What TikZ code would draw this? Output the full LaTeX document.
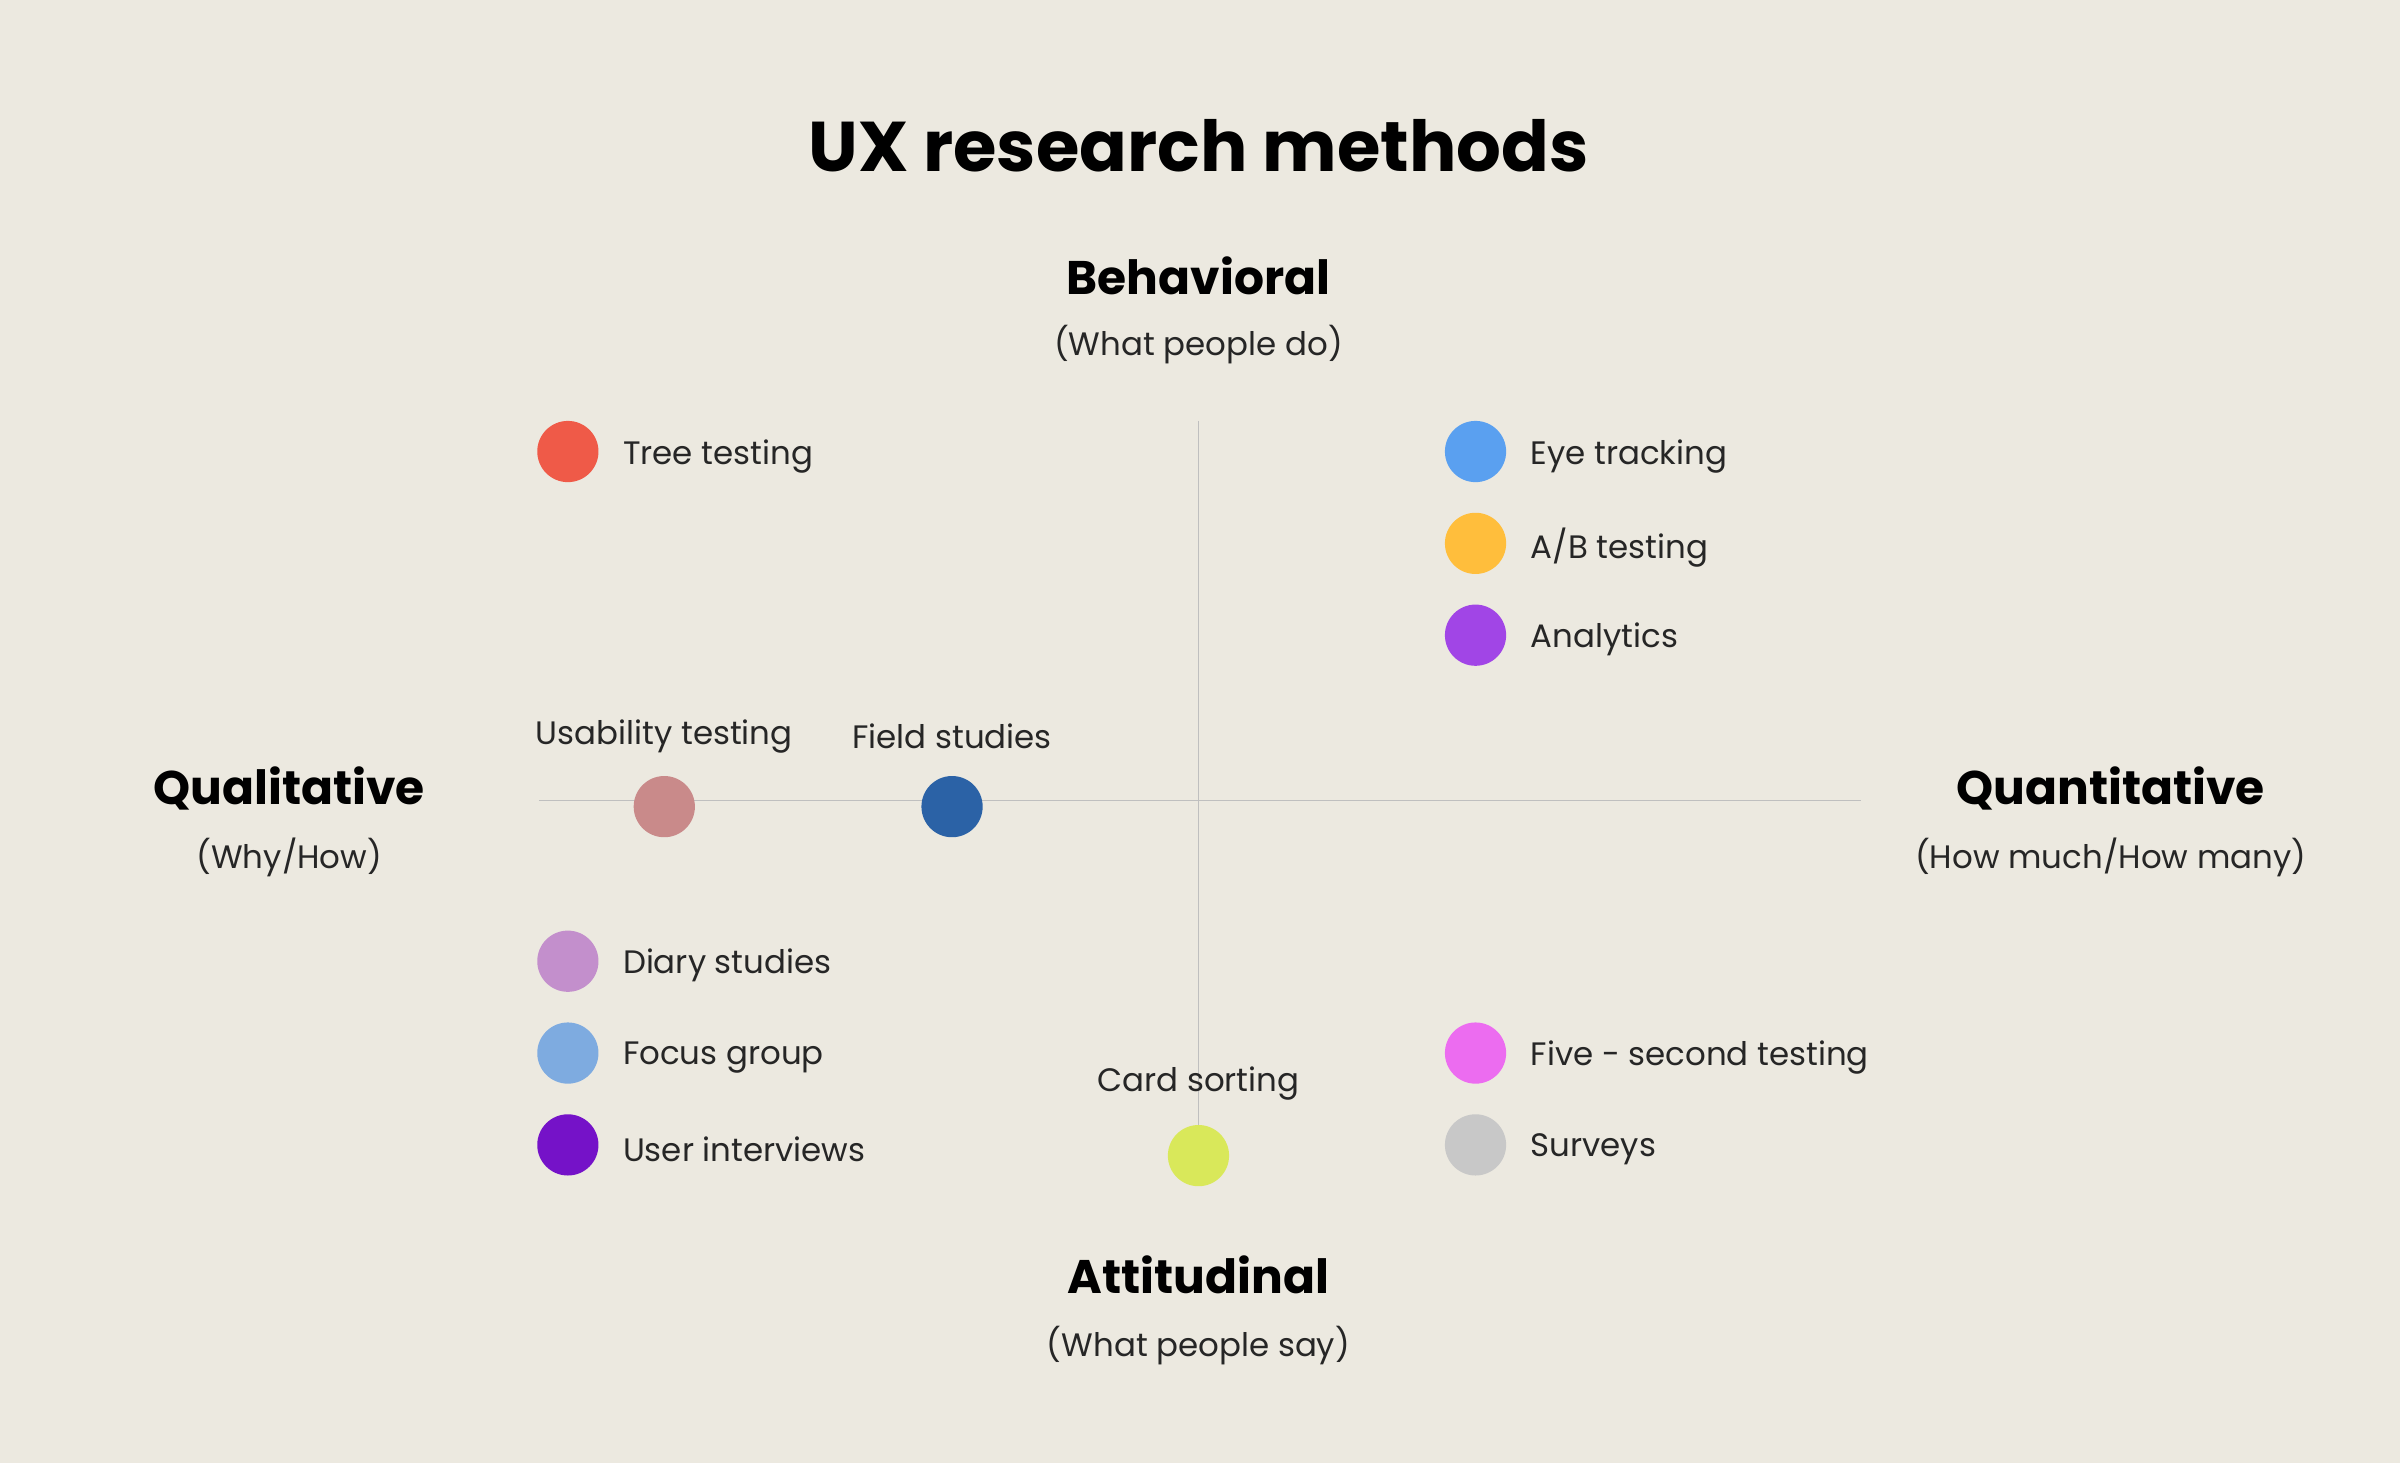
\documentclass[tikz,border=0pt]{standalone}
\usepackage{fontspec}
\setmainfont{Poppins}
\begin{document}
\begin{tikzpicture}[x=0.5pt,y=-0.5pt,
  dot/.style={circle,minimum size=20pt,inner sep=0pt},
  lab/.style={anchor=west,yshift=-1.5pt,font=\fontsize{10.6}{13}\selectfont,text=black!85},
  clab/.style={font=\fontsize{10.6}{13}\selectfont,text=black!85},
  head/.style={font=\fontsize{15.4}{18}\selectfont\bfseries},
  sub/.style={font=\fontsize{10.6}{13}\selectfont,text=black!85},
  axis/.style={draw=black!25,line width=0.6pt}]
\fill[fill={rgb,255:red,236;green,233;blue,224}] (0,0) rectangle (1568,956);
\useasboundingbox (0,0) rectangle (1568,956);
\node[font=\fontsize{23}{28}\selectfont\bfseries] (title) at (783,95) {UX research methods};
\node[head] (beh) at (783,180) {Behavioral};
\node[sub] (behs) at (783,225) {(What people do)};
\node[head] (att) at (783,833) {Attitudinal};
\node[sub] (atts) at (783,879) {(What people say)};
\node[head] (qual) at (189,515) {Qualitative};
\node[sub] (quals) at (189,560) {(Why/How)};
\node[head] (quan) at (1379,515) {Quantitative};
\node[sub] (quans) at (1379,560) {(How much/How many)};
\coordinate (vt) at (783,275); \coordinate (vb) at (783,755);
\coordinate (hl) at (352,523); \coordinate (hr) at (1216,523);
\draw[axis] (vt) -- (vb);
\draw[axis] (hl) -- (hr);
\node[dot,fill={rgb,255:red,239;green,90;blue,72}] (d1) at (371,295) {};
\node[lab] at (400,295) {Tree testing};
\node[dot,fill={rgb,255:red,90;green,160;blue,240}] (d2) at (964,295) {};
\node[lab] at (993,295) {Eye tracking};
\node[dot,fill={rgb,255:red,255;green,190;blue,60}] (d3) at (964,355) {};
\node[lab] at (993,355) {A/B testing};
\node[dot,fill={rgb,255:red,161;green,69;blue,230}] (d4) at (964,415) {};
\node[lab] at (993,415) {Analytics};
\node[dot,fill={rgb,255:red,201;green,138;blue,138}] (d5) at (434,527) {};
\node[clab] at (434,481) {Usability testing};
\node[dot,fill={rgb,255:red,43;green,98;blue,166}] (d6) at (622,527) {};
\node[clab] at (622,481) {Field studies};
\node[dot,fill={rgb,255:red,195;green,143;blue,204}] (d7) at (371,628) {};
\node[lab] at (400,628) {Diary studies};
\node[dot,fill={rgb,255:red,126;green,171;blue,224}] (d8) at (371,688) {};
\node[lab] at (400,688) {Focus group};
\node[dot,fill={rgb,255:red,117;green,18;blue,200}] (d9) at (371,748) {};
\node[lab] at (400,748) {User interviews};
\node[dot,fill={rgb,255:red,217;green,232;blue,90}] (d10) at (783,755) {};
\node[clab] at (783,708) {Card sorting};
\node[dot,fill={rgb,255:red,236;green,108;blue,240}] (d11) at (964,688) {};
\node[lab] at (993,688) {Five - second testing};
\node[dot,fill={rgb,255:red,200;green,200;blue,200}] (d12) at (964,748) {};
\node[lab] at (993,748) {Surveys};
\end{tikzpicture}
\end{document}
